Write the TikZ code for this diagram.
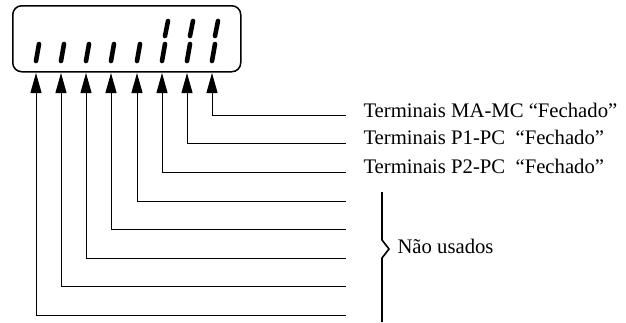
\documentclass[tikz,border=0pt]{standalone}
\usepackage{fontspec}
\setmainfont{Liberation Serif}
\usetikzlibrary{arrows.meta,positioning}
\tikzstyle{seg}=[line width=4.6pt, line cap=round]
\tikzstyle{lbl}=[inner sep=0pt, font=\fontsize{20.7}{24}\selectfont]

\begin{document}
\begin{tikzpicture}[x=1pt, y=-1pt, >={Triangle[length=20pt,width=11pt]}, line width=1pt]
\useasboundingbox (0,0) rectangle (626,322);
\node[draw, line width=1.5pt, rounded corners=9pt, minimum width=228pt, minimum height=66pt, anchor=north west] (disp) at (12,5) {};
% display segments
\draw[seg] (36,61) -- (39,44);
\draw[seg] (61,61) -- (64,44);
\draw[seg] (86,61) -- (89,44);
\draw[seg] (111,61) -- (114,44);
\draw[seg] (137,61) -- (140,44);
\draw[seg] (162,61) -- (165,44);
\draw[seg] (187,61) -- (190,44);
\draw[seg] (212,61) -- (215,44);
\draw[seg] (165,36) -- (168,21);
\draw[seg] (190,36) -- (193,21);
\draw[seg] (215,36) -- (218,21);
% pin tips
\coordinate (t1) at (36,73);
\coordinate (t2) at (61,73);
\coordinate (t3) at (86,73);
\coordinate (t4) at (111,73);
\coordinate (t5) at (137,73);
\coordinate (t6) at (162,73);
\coordinate (t7) at (187,73);
\coordinate (t8) at (212,73);
% line ends
\coordinate (r1) at (346,315);
\coordinate (r2) at (346,286.5);
\coordinate (r3) at (346,258);
\coordinate (r4) at (346,229.5);
\coordinate (r5) at (346,201);
\coordinate (r6) at (346,172);
\coordinate (r7) at (346,143.5);
\coordinate (r8) at (346,115);
\draw[->] (r1) -| (t1);
\draw[->] (r2) -| (t2);
\draw[->] (r3) -| (t3);
\draw[->] (r4) -| (t4);
\draw[->] (r5) -| (t5);
\draw[->] (r6) -| (t6);
\draw[->] (r7) -| (t7);
\draw[->] (r8) -| (t8);
\node[lbl, right=17pt of r8, anchor=base west, yshift=-2pt] (mamc) {Terminais MA-MC “Fechado”};
\node[lbl, right=17pt of r7, anchor=base west, yshift=-1pt] (p1pc) {Terminais P1-PC \ “Fechado”};
\node[lbl, right=17pt of r6, anchor=base west, yshift=-1pt] (p2pc) {Terminais P2-PC \ “Fechado”};
% brace
\coordinate (btop) at (382,192);
\coordinate (bbot) at (382,322);
\coordinate (btip) at (389,249);
\node[lbl, right=8pt of btip, anchor=base west, yshift=-4pt] (nu) {Não usados};
\draw[line width=1.6pt] (btop) -- (382,240) -- (btip) -- (382,258) -- (bbot);
\end{tikzpicture}
\end{document}
